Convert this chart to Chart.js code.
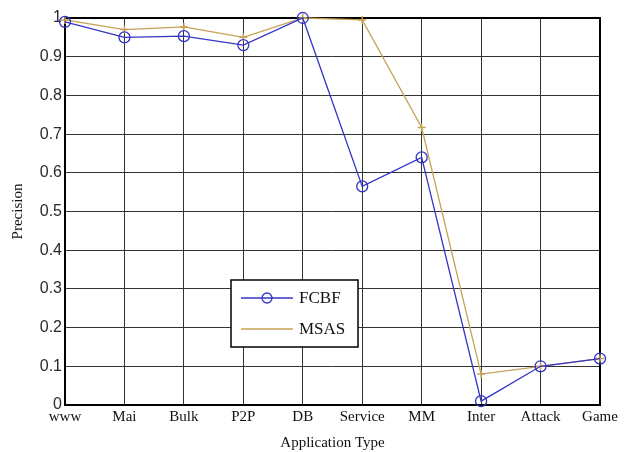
<!DOCTYPE html>
<html>
<head>
<meta charset="utf-8">
<script src="https://cdn.jsdelivr.net/npm/chart.js@4/dist/chart.umd.min.js"></script>
<style>
  html, body { margin: 0; padding: 0; background: #fff; }
  #wrap { width: 627px; height: 452px; position: relative; }
</style>
</head>
<body>
<div id="wrap"><canvas id="chart"></canvas></div>
<script>
// ===== DATA =====
const categories = ['www', 'Mai', 'Bulk', 'P2P', 'DB', 'Service', 'MM', 'Inter', 'Attack', 'Game'];
const fcbfValues = [0.99, 0.95, 0.953, 0.93, 1.0, 0.565, 0.64, 0.01, 0.10, 0.12];
const msasValues = [0.995, 0.97, 0.977, 0.95, 1.0, 0.995, 0.717, 0.08, 0.10, 0.12];
const yTicks = [0, 0.1, 0.2, 0.3, 0.4, 0.5, 0.6, 0.7, 0.8, 0.9, 1];

const BLUE = '#3434c6';
const TAN = '#c6a258';
const GRID = '#333333';

// Box around the axes (like MATLAB "box on"), drawn under the lines
const boxPlugin = {
    id: 'axesBox',
    beforeDatasetsDraw(chart) {
        const { ctx, chartArea: a } = chart;
        ctx.save();
        ctx.strokeStyle = '#000';
        ctx.lineWidth = 2;
        ctx.strokeRect(a.left, a.top, a.right - a.left, a.bottom - a.top);
        ctx.restore();
    }
};

// Legend box placed inside the plot, like the original figure
const insetLegend = {
    id: 'insetLegend',
    afterDraw(chart) {
        const { ctx, chartArea: a } = chart;
        const x = a.left + 166, y = a.top + 262, w = 127, h = 67;
        ctx.save();
        ctx.fillStyle = '#fff';
        ctx.fillRect(x, y, w, h);
        ctx.strokeStyle = '#000';
        ctx.lineWidth = 1.5;
        ctx.strokeRect(x, y, w, h);

        const rows = [
            { label: 'FCBF', color: BLUE, marker: 'circle', dy: 18 },
            { label: 'MSAS', color: TAN, marker: 'plus', dy: 49 }
        ];
        ctx.font = '17px "Liberation Serif", "Times New Roman", serif';
        ctx.textBaseline = 'middle';
        rows.forEach(r => {
            const ly = y + r.dy;
            ctx.strokeStyle = r.color;
            ctx.lineWidth = 1.3;
            ctx.beginPath();
            ctx.moveTo(x + 10, ly);
            ctx.lineTo(x + 62, ly);
            ctx.stroke();
            if (r.marker === 'circle') {
                ctx.beginPath();
                ctx.arc(x + 36, ly, 5, 0, Math.PI * 2);
                ctx.stroke();
            }
            ctx.fillStyle = '#111';
            ctx.fillText(r.label, x + 68, ly + 1);
        });
        ctx.restore();
    }
};

const ctx = document.getElementById('chart');
new Chart(ctx, {
    type: 'line',
    data: {
        labels: categories,
        datasets: [
            {
                label: 'FCBF',
                data: fcbfValues,
                borderColor: BLUE,
                backgroundColor: 'rgba(0,0,0,0)',
                borderWidth: 1.3,
                pointStyle: 'circle',
                pointRadius: 5.5,
                pointBorderWidth: 1.3,
                pointBorderColor: BLUE,
                pointBackgroundColor: 'rgba(0,0,0,0)',
                tension: 0,
                clip: false
            },
            {
                label: 'MSAS',
                data: msasValues,
                borderColor: TAN,
                backgroundColor: 'rgba(0,0,0,0)',
                borderWidth: 1.3,
                pointStyle: 'cross',
                pointRadius: 4,
                pointBorderWidth: 1.5,
                pointBorderColor: TAN,
                tension: 0,
                clip: false
            }
        ]
    },
    options: {
        responsive: true,
        maintainAspectRatio: false,
        animation: false,
        layout: { padding: { left: 0, right: 27, top: 18, bottom: 0 } },
        plugins: {
            legend: { display: false },
            tooltip: { enabled: false }
        },
        scales: {
            x: {
                offset: false,
                grid: { color: GRID, lineWidth: 1, drawTicks: false },
                border: { display: false },
                ticks: {
                    color: '#111',
                    padding: 3,
                    maxRotation: 0,
                    autoSkip: false,
                    font: { family: '"Liberation Serif", "Times New Roman", serif', size: 15 }
                },
                title: {
                    display: true,
                    text: 'Application Type',
                    color: '#111',
                    padding: { top: 0, bottom: 0 },
                    font: { family: '"Liberation Serif", "Times New Roman", serif', size: 15 }
                },
                afterFit(axis) { axis.height = 47; }
            },
            y: {
                min: 0,
                max: 1,
                afterBuildTicks(axis) { axis.ticks = yTicks.map(v => ({ value: v })); },
                grid: { color: GRID, lineWidth: 1, drawTicks: false },
                border: { display: false },
                ticks: {
                    color: '#2a2a2a',
                    padding: 3,
                    font: { family: '"Liberation Sans", Arial, sans-serif', size: 16 },
                    callback: v => String(v)
                },
                title: {
                    display: true,
                    text: 'Precision',
                    color: '#111',
                    padding: { top: 9, bottom: 0 },
                    font: { family: '"Liberation Serif", "Times New Roman", serif', size: 15 }
                },
                afterFit(axis) { axis.width = 65; }
            }
        }
    },
    plugins: [boxPlugin, insetLegend]
});
</script>
</body>
</html>
